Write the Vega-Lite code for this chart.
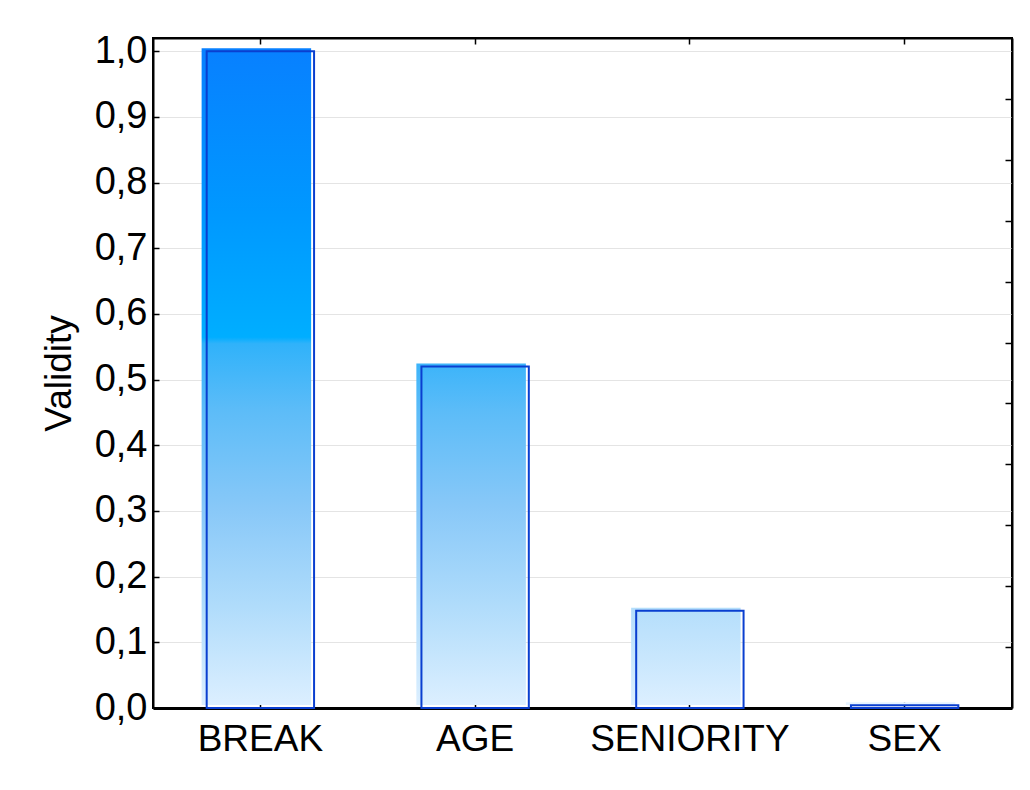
{
  "$schema": "https://vega.github.io/schema/vega-lite/v6.json",
  "width": 859,
  "height": 670,
  "autosize": {"type": "none"},
  "padding": {"left": 153, "top": 38, "right": 18, "bottom": 82},
  "background": "white",
  "config": {
    "view": {"stroke": "black", "strokeWidth": 2},
    "font": "Liberation Sans",
    "axis": {"labelFont": "Liberation Sans", "titleFont": "Liberation Sans", "labelColor": "black", "titleColor": "black", "domainColor": "black", "tickColor": "black"}
  },
  "data": {
    "values": [
      {"variable": "BREAK", "validity": 1.0},
      {"variable": "AGE", "validity": 0.52},
      {"variable": "SENIORITY", "validity": 0.148},
      {"variable": "SEX", "validity": 0.004}
    ]
  },
  "layer": [
    {
      "mark": {"type": "bar", "xOffset": -4, "yOffset": -3, "y2Offset": 0, "width": {"band": 1.02}},
      "encoding": {
        "x": {
          "field": "variable", "type": "nominal", "sort": null,
          "scale": {"paddingInner": 0.5, "paddingOuter": 0.25},
          "axis": {"title": null, "labelAngle": 0, "labelFontSize": 37, "labelLimit": 0, "labelPadding": 19, "tickSize": -6, "tickWidth": 1.5, "domainWidth": 3, "orient": "bottom", "grid": false}
        },
        "y": {
          "field": "validity", "type": "quantitative",
          "scale": {"domain": [0, 1.02], "nice": false, "zero": true},
          "axis": {
            "title": "Validity", "titleFontSize": 37, "titleFontWeight": "normal", "titlePadding": 16,
            "values": [0, 0.1, 0.2, 0.3, 0.4, 0.5, 0.6, 0.7, 0.8, 0.9, 1.0],
            "labelExpr": "replace(format(datum.value, '.1f'), '.', ',')",
            "labelFontSize": 38, "labelPadding": 12, "tickSize": -6, "tickWidth": 1.5,
            "domainWidth": 2, "grid": true, "gridColor": "#e4e4e4", "gridWidth": 1.2, "orient": "left"
          }
        },
        "fill": {
          "condition": [
            {"test": "datum.variable === 'BREAK'", "value": {"gradient": "linear", "x1": 0, "y1": 1, "x2": 0, "y2": 0, "stops": [
              {"offset": 0, "color": "#dcefff"},
              {"offset": 0.15, "color": "#b0dcfb"},
              {"offset": 0.3, "color": "#88c8f8"},
              {"offset": 0.45, "color": "#5cbcf8"},
              {"offset": 0.55, "color": "#30b2fa"},
              {"offset": 0.56, "color": "#00aeff"},
              {"offset": 0.75, "color": "#0098ff"},
              {"offset": 1, "color": "#0880ff"}
            ]}},
            {"test": "datum.variable === 'AGE'", "value": {"gradient": "linear", "x1": 0, "y1": 1, "x2": 0, "y2": 0, "stops": [
              {"offset": 0, "color": "#dcefff"},
              {"offset": 0.29, "color": "#b0dcfb"},
              {"offset": 0.58, "color": "#88c8f8"},
              {"offset": 0.86, "color": "#5cbcf8"},
              {"offset": 1, "color": "#3cb4fa"}
            ]}},
            {"test": "datum.variable === 'SENIORITY'", "value": {"gradient": "linear", "x1": 0, "y1": 1, "x2": 0, "y2": 0, "stops": [
              {"offset": 0, "color": "#dcefff"},
              {"offset": 1, "color": "#b4defb"}
            ]}}
          ],
          "value": "#e6f3ff"
        }
      }
    },
    {
      "mark": {"type": "bar", "fillOpacity": 0, "stroke": "#0a3fd0", "strokeWidth": 2},
      "encoding": {
        "x": {
          "field": "variable", "type": "nominal", "sort": null,
          "scale": {"paddingInner": 0.5, "paddingOuter": 0.25},
          "axis": {"title": null, "labels": false, "tickSize": -6, "tickWidth": 1.5, "domainWidth": 2, "orient": "top", "grid": false}
        },
        "y": {
          "field": "validity", "type": "quantitative",
          "scale": {"domain": [0, 1.02], "nice": false, "zero": true},
          "axis": null
        }
      }
    },
    {
      "mark": {"type": "point", "opacity": 0},
      "encoding": {
        "x": {"field": "variable", "type": "nominal", "sort": null, "axis": null},
        "y": {
          "field": "validity", "type": "quantitative",
          "scale": {"domain": [0, 11], "nice": false, "zero": true},
          "axis": {"title": null, "labels": false, "orient": "right", "values": [1, 2, 3, 4, 5, 6, 7, 8, 9, 10], "tickSize": -7, "tickWidth": 1.5, "domainWidth": 2, "grid": false}
        }
      }
    }
  ],
  "resolve": {"scale": {"y": "independent"}, "axis": {"x": "independent", "y": "independent"}}
}
